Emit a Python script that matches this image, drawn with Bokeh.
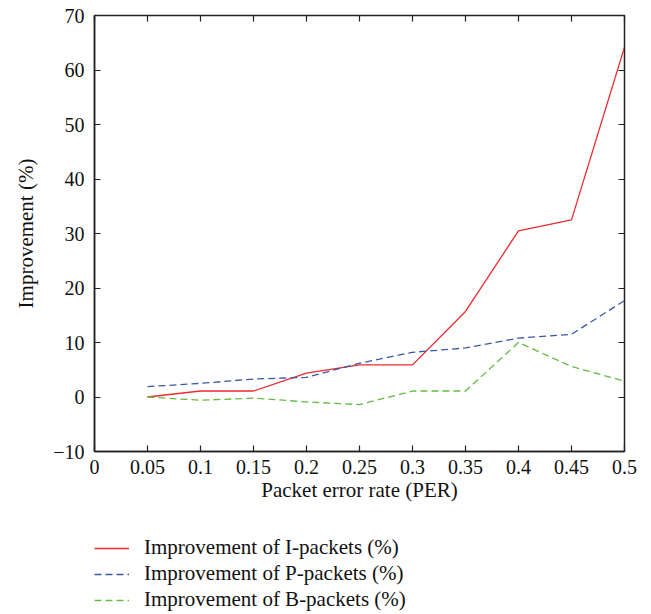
from bokeh.plotting import figure
from bokeh.models import Range1d, FixedTicker, LinearAxis, Legend, LegendItem
from bokeh.layouts import column
from bokeh.embed import file_html
from bokeh.resources import INLINE

per = [0.05, 0.1, 0.15, 0.2, 0.25, 0.3, 0.35, 0.4, 0.45, 0.5]
i_packets = [0.0, 1.1, 1.1, 4.4, 5.9, 5.9, 15.7, 30.5, 32.5, 64.2]
p_packets = [1.9, 2.5, 3.3, 3.6, 6.2, 8.2, 9.0, 10.8, 11.5, 17.7]
b_packets = [0.0, -0.6, -0.2, -0.9, -1.4, 1.1, 1.1, 10.0, 5.6, 2.9]

x_ticks = [0, 0.05, 0.1, 0.15, 0.2, 0.25, 0.3, 0.35, 0.4, 0.45, 0.5]
x_tick_labels = ["0", "0.05", "0.1", "0.15", "0.2", "0.25", "0.3", "0.35", "0.4", "0.45", "0.5"]
y_ticks = [-10, 0, 10, 20, 30, 40, 50, 60, 70]
y_tick_labels = ["\u221210", "0", "10", "20", "30", "40", "50", "60", "70"]

series_names = ["Improvement of I-packets (%)",
                "Improvement of P-packets (%)",
                "Improvement of B-packets (%)"]
series_colors = ["#ee2a2e", "#3a58a8", "#66bb44"]
series_dash = ["solid", "7 4", "7 4"]

FONT = "Liberation Serif"
FS = "20px"

p = figure(
    output_backend="svg", toolbar_location=None,
    frame_width=530, frame_height=436,
    min_border_left=94, min_border_right=27, min_border_top=15, min_border_bottom=75,
    x_range=Range1d(0, 0.5), y_range=Range1d(-10, 70),
    background_fill_color="white", border_fill_color="white",
)
p.grid.visible = False
p.outline_line_color = "#222222"
p.outline_line_width = 1.5

for ax in (p.xaxis[0], p.yaxis[0]):
    ax.major_label_text_font = FONT
    ax.major_label_text_font_size = FS
    ax.major_label_text_color = "#111111"
    ax.axis_label_text_font = FONT
    ax.axis_label_text_font_size = "21px"
    ax.axis_label_text_font_style = "normal"
    ax.axis_label_text_color = "#111111"
    ax.major_tick_in = 6
    ax.major_tick_out = 0
    ax.minor_tick_line_color = None
    ax.axis_line_color = "#222222"
    ax.axis_line_width = 1.5
    ax.major_tick_line_color = "#222222"
    ax.major_tick_line_width = 1.2

p.xaxis[0].ticker = FixedTicker(ticks=x_ticks)
p.xaxis[0].major_label_overrides = {t: l for t, l in zip(x_ticks, x_tick_labels)}
p.xaxis[0].axis_label = "Packet error rate (PER)"
p.xaxis[0].major_label_standoff = 8
p.xaxis[0].axis_label_standoff = 1

p.yaxis[0].ticker = FixedTicker(ticks=y_ticks)
p.yaxis[0].major_label_overrides = {t: l for t, l in zip(y_ticks, y_tick_labels)}
p.yaxis[0].axis_label = "Improvement (%)"
p.yaxis[0].major_label_standoff = 10
p.yaxis[0].axis_label_standoff = 12

for loc, ticks in (("above", x_ticks), ("right", y_ticks)):
    extra = LinearAxis(ticker=FixedTicker(ticks=ticks), major_label_text_color=None,
                       major_label_text_font_size="1px",
                       major_tick_in=6, major_tick_out=0, minor_tick_line_color=None,
                       axis_line_color="#222222", major_tick_line_color="#222222",
                       major_tick_line_width=1.2, major_label_standoff=0)
    p.add_layout(extra, loc)

series = [i_packets, p_packets, b_packets]
for vals, col, dash in zip(series, series_colors, series_dash):
    p.line(per, vals, line_color=col, line_width=1.3, line_dash=dash)

# legend panel below the chart (its key lines sit outside the visible range)
lg = figure(
    output_backend="svg", toolbar_location=None,
    frame_width=557, frame_height=79,
    min_border_left=94, min_border_right=0, min_border_top=9, min_border_bottom=0,
    x_range=Range1d(0, 1), y_range=Range1d(0, 1),
    background_fill_color="white", border_fill_color="white",
)
lg.axis.visible = False
lg.grid.visible = False
lg.outline_line_color = None
items = []
for name, col, dash in zip(series_names, series_colors, series_dash):
    r = lg.line(x=[5, 6], y=[5, 5], line_color=col, line_width=1.3, line_dash=dash)
    items.append(LegendItem(label=name, renderers=[r]))

legend = Legend(
    items=items,
    location="top_left",
    padding=0, margin=0, spacing=1,
    glyph_width=35, glyph_height=20, label_height=20,
    label_standoff=15,
    label_text_font=FONT, label_text_font_size="21px", label_text_color="#111111",
    border_line_color=None, background_fill_alpha=0,
)
lg.add_layout(legend, "center")

layout = column(p, lg, spacing=0)
open("out.html", "w").write(file_html(layout, INLINE))
